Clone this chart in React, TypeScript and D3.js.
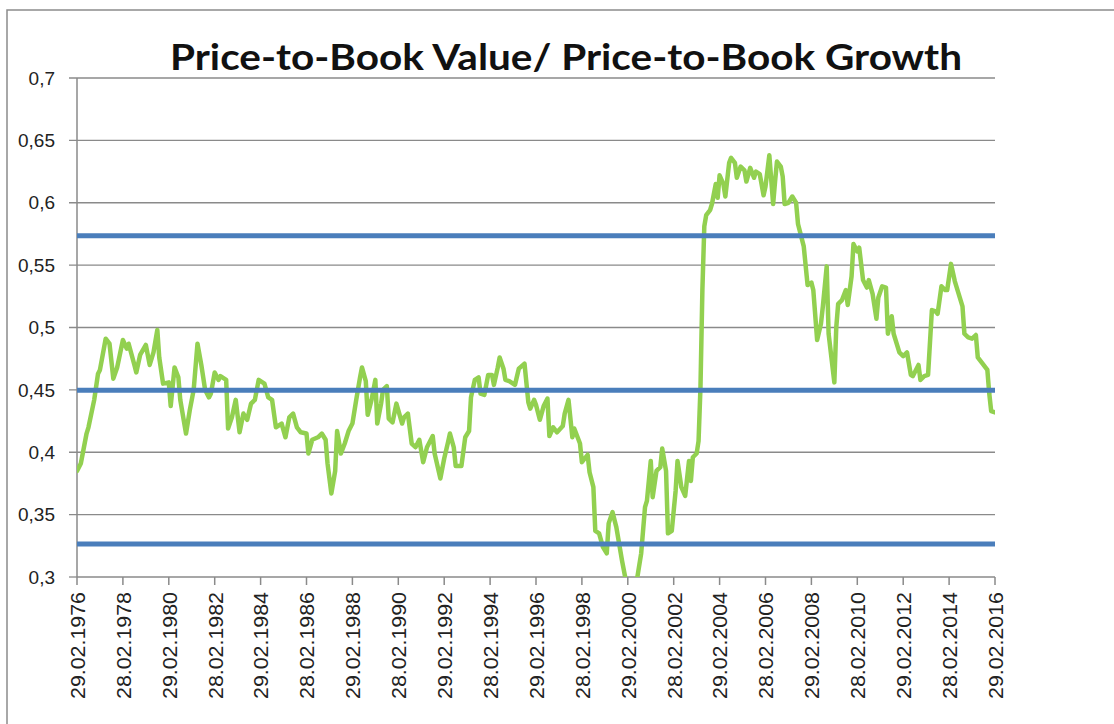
import * as React from 'react';
import { useEffect, useRef } from 'react';
import * as d3 from 'd3';

// month offsets counted from 29.02.1976 (monthly series)
const monthIdx = [
  0, 2, 5, 6, 9, 11, 12, 15, 17, 19, 21, 24, 26, 27, 30, 31, 33, 36, 38, 40,
  42, 43, 45, 48, 49, 51, 53, 54, 57, 59, 61, 63, 65, 67, 69, 70, 72, 74, 75, 78,
  79, 81, 83, 85, 87, 89, 91, 93, 95, 98, 100, 102, 104, 107, 109, 111, 113, 115, 117, 120,
  121, 123, 126, 128, 130, 131, 133, 135, 136, 138, 140, 142, 144, 146, 148, 149, 151, 152, 154, 156,
  157, 159, 160, 162, 163, 165, 167, 170, 171, 173, 175, 177, 179, 181, 183, 186, 187, 190, 192, 194,
  195, 197, 198, 201, 203, 205, 206, 208, 210, 211, 213, 215, 217, 218, 220, 221, 223, 224, 226, 229,
  231, 234, 236, 237, 239, 240, 242, 244, 246, 247, 249, 251, 254, 255, 257, 259, 260, 263, 264, 267,
  268, 270, 271, 273, 275, 277, 278, 280, 282, 285, 287, 289, 291, 293, 295, 297, 298, 300, 301, 303,
  305, 306, 308, 309, 311, 313, 314, 316, 318, 320, 321, 322, 324, 325, 326, 327, 328, 329, 331, 332,
  334, 335, 336, 338, 339, 341, 342, 344, 345, 347, 349, 350, 352, 354, 355, 357, 359, 360, 362, 364,
  365, 366, 368, 369, 370, 372, 374, 376, 377, 380, 382, 384, 385, 387, 389, 390, 392, 393, 396, 397,
  398, 400, 402, 403, 405, 406, 408, 409, 411, 413, 414, 416, 418, 419, 421, 423, 424, 426, 427, 430,
  432, 434, 436, 437, 440, 441, 443, 445, 447, 449, 450, 452, 454, 455, 457, 459, 461, 463, 464, 466,
  468, 470, 471, 473, 476, 477, 478, 480
];

const pbRatio = [
  0.385, 0.391, 0.415, 0.420, 0.442, 0.463, 0.466, 0.491, 0.487, 0.459, 0.468, 0.490, 0.483, 0.487, 0.470, 0.464, 0.478, 0.486, 0.470, 0.480,
  0.498, 0.476, 0.455, 0.456, 0.437, 0.468, 0.460, 0.442, 0.415, 0.434, 0.450, 0.487, 0.470, 0.450, 0.444, 0.447, 0.464, 0.458, 0.461, 0.458,
  0.419, 0.428, 0.442, 0.416, 0.431, 0.426, 0.439, 0.442, 0.458, 0.455, 0.444, 0.442, 0.420, 0.423, 0.412, 0.428, 0.431, 0.420, 0.416, 0.415,
  0.399, 0.410, 0.412, 0.415, 0.410, 0.391, 0.367, 0.385, 0.417, 0.399, 0.407, 0.417, 0.423, 0.442, 0.460, 0.468, 0.457, 0.430, 0.442, 0.458,
  0.423, 0.439, 0.450, 0.453, 0.427, 0.424, 0.439, 0.423, 0.428, 0.431, 0.407, 0.404, 0.410, 0.392, 0.404, 0.413, 0.399, 0.379, 0.395, 0.408,
  0.415, 0.404, 0.389, 0.389, 0.412, 0.417, 0.444, 0.458, 0.460, 0.447, 0.446, 0.462, 0.462, 0.454, 0.468, 0.476, 0.467, 0.458, 0.457, 0.454,
  0.467, 0.471, 0.440, 0.435, 0.442, 0.438, 0.426, 0.437, 0.443, 0.413, 0.420, 0.416, 0.421, 0.431, 0.442, 0.412, 0.419, 0.407, 0.392, 0.398,
  0.384, 0.372, 0.337, 0.335, 0.324, 0.319, 0.343, 0.352, 0.340, 0.313, 0.297, 0.285, 0.285, 0.300, 0.319, 0.356, 0.361, 0.393, 0.364, 0.385,
  0.388, 0.403, 0.385, 0.335, 0.337, 0.369, 0.393, 0.372, 0.365, 0.393, 0.377, 0.396, 0.399, 0.409, 0.452, 0.530, 0.581, 0.590, 0.594, 0.599,
  0.615, 0.604, 0.622, 0.615, 0.605, 0.632, 0.636, 0.632, 0.620, 0.629, 0.626, 0.617, 0.628, 0.620, 0.625, 0.623, 0.606, 0.613, 0.638, 0.599,
  0.617, 0.633, 0.629, 0.621, 0.599, 0.600, 0.605, 0.600, 0.583, 0.565, 0.534, 0.536, 0.530, 0.490, 0.503, 0.517, 0.549, 0.495, 0.456, 0.500,
  0.519, 0.522, 0.530, 0.518, 0.541, 0.567, 0.561, 0.564, 0.538, 0.532, 0.538, 0.527, 0.507, 0.524, 0.533, 0.532, 0.495, 0.509, 0.495, 0.480,
  0.477, 0.480, 0.462, 0.461, 0.470, 0.458, 0.461, 0.462, 0.514, 0.513, 0.511, 0.533, 0.530, 0.530, 0.551, 0.537, 0.527, 0.517, 0.495, 0.492,
  0.491, 0.494, 0.476, 0.472, 0.466, 0.447, 0.433, 0.432
];

// mean and +/- one standard deviation
const bandLevels = [0.5735, 0.4497, 0.3265];

const yTicks = [0.3, 0.35, 0.4, 0.45, 0.5, 0.55, 0.6, 0.65, 0.7];

const xTickLabels = [
  '29.02.1976', '28.02.1978', '29.02.1980', '28.02.1982', '29.02.1984', '28.02.1986', '29.02.1988',
  '28.02.1990', '29.02.1992', '28.02.1994', '29.02.1996', '28.02.1998', '29.02.2000', '28.02.2002',
  '29.02.2004', '28.02.2006', '29.02.2008', '28.02.2010', '29.02.2012', '28.02.2014', '29.02.2016'
];

const chartTitle = 'Price-to-Book Value/ Price-to-Book Growth';

export default function App() {
  const ref = useRef<SVGSVGElement>(null);

  useEffect(() => {
    const svg = d3.select(ref.current);
    svg.selectAll('*').remove();

    const W = 1114, H = 724;
    const left = 77, right = 995, top = 78, bottom = 577;

    const x = d3.scaleLinear().domain([0, 480]).range([left, right]);
    const y = d3.scaleLinear().domain([0.3, 0.7]).range([bottom, top]);

    svg.append('rect').attr('width', W).attr('height', H).attr('fill', '#fff');

    // outer chart frame
    svg.append('path')
      .attr('d', `M7,${H} L7,10 L${W},10`)
      .attr('fill', 'none')
      .attr('stroke', '#8c8c8c')
      .attr('stroke-width', 1.5);

    // title
    svg.append('text')
      .attr('x', 170)
      .attr('y', 70)
      .attr('textLength', 792)
      .attr('lengthAdjust', 'spacingAndGlyphs')
      .style('font-family', 'Lato, "Open Sans", sans-serif')
      .style('font-weight', 700)
      .style('font-size', '36px')
      .attr('fill', '#111')
      .text(chartTitle);

    // horizontal gridlines + y tick marks
    svg.append('g')
      .selectAll('line')
      .data(yTicks)
      .enter()
      .append('line')
      .attr('x1', left - 8)
      .attr('x2', (d) => (d === 0.3 ? left : right))
      .attr('y1', (d) => y(d))
      .attr('y2', (d) => y(d))
      .attr('stroke', '#8a8a8a')
      .attr('stroke-width', 1.3);

    svg.append('g')
      .selectAll('text')
      .data(yTicks)
      .enter()
      .append('text')
      .attr('x', 55)
      .attr('y', (d) => y(d))
      .attr('dy', '0.35em')
      .attr('text-anchor', 'end')
      .style('font-family', '"Liberation Sans", Arial, sans-serif')
      .style('font-size', '19px')
      .attr('fill', '#222')
      .text((d) => String(d).replace('.', ','));

    // axes lines
    svg.append('line')
      .attr('x1', left).attr('x2', left)
      .attr('y1', top).attr('y2', bottom)
      .attr('stroke', '#8a8a8a').attr('stroke-width', 1.5);
    svg.append('line')
      .attr('x1', left).attr('x2', right)
      .attr('y1', bottom).attr('y2', bottom)
      .attr('stroke', '#8a8a8a').attr('stroke-width', 1.5);

    // x ticks every 24 months
    const xg = svg.append('g');
    xTickLabels.forEach((lab, i) => {
      const xp = x(i * 24);
      xg.append('line')
        .attr('x1', xp).attr('x2', xp)
        .attr('y1', bottom).attr('y2', bottom + 8)
        .attr('stroke', '#8a8a8a').attr('stroke-width', 1.5);
      xg.append('text')
        .attr('transform', `translate(${xp + 1},592) rotate(-90)`)
        .attr('dy', '0.35em')
        .attr('text-anchor', 'end')
        .attr('textLength', 107)
        .attr('lengthAdjust', 'spacingAndGlyphs')
        .style('font-family', '"Liberation Sans", Arial, sans-serif')
        .style('font-size', '19.5px')
        .attr('fill', '#222')
        .text(lab);
    });

    svg.append('clipPath').attr('id', 'plot-clip')
      .append('rect')
      .attr('x', left).attr('y', top)
      .attr('width', right - left).attr('height', bottom - top);

    const line = d3.line<number>()
      .x((d, i) => x(monthIdx[i]))
      .y((d) => y(d));

    svg.append('path')
      .datum(pbRatio)
      .attr('clip-path', 'url(#plot-clip)')
      .attr('d', line)
      .attr('fill', 'none')
      .attr('stroke', '#92D050')
      .attr('stroke-width', 4.5)
      .attr('stroke-linejoin', 'round')
      .attr('stroke-linecap', 'round');

    // mean / sd bands
    svg.append('g')
      .selectAll('line')
      .data(bandLevels)
      .enter()
      .append('line')
      .attr('x1', left).attr('x2', right)
      .attr('y1', (d) => y(d)).attr('y2', (d) => y(d))
      .attr('stroke', '#4A7EBB')
      .attr('stroke-width', 5);
  }, []);

  return (
    <div>
      <svg
        ref={ref}
        width={1114}
        height={724}
        style={{ position: 'absolute', left: 0, top: 0 }}
      />
    </div>
  );
}
